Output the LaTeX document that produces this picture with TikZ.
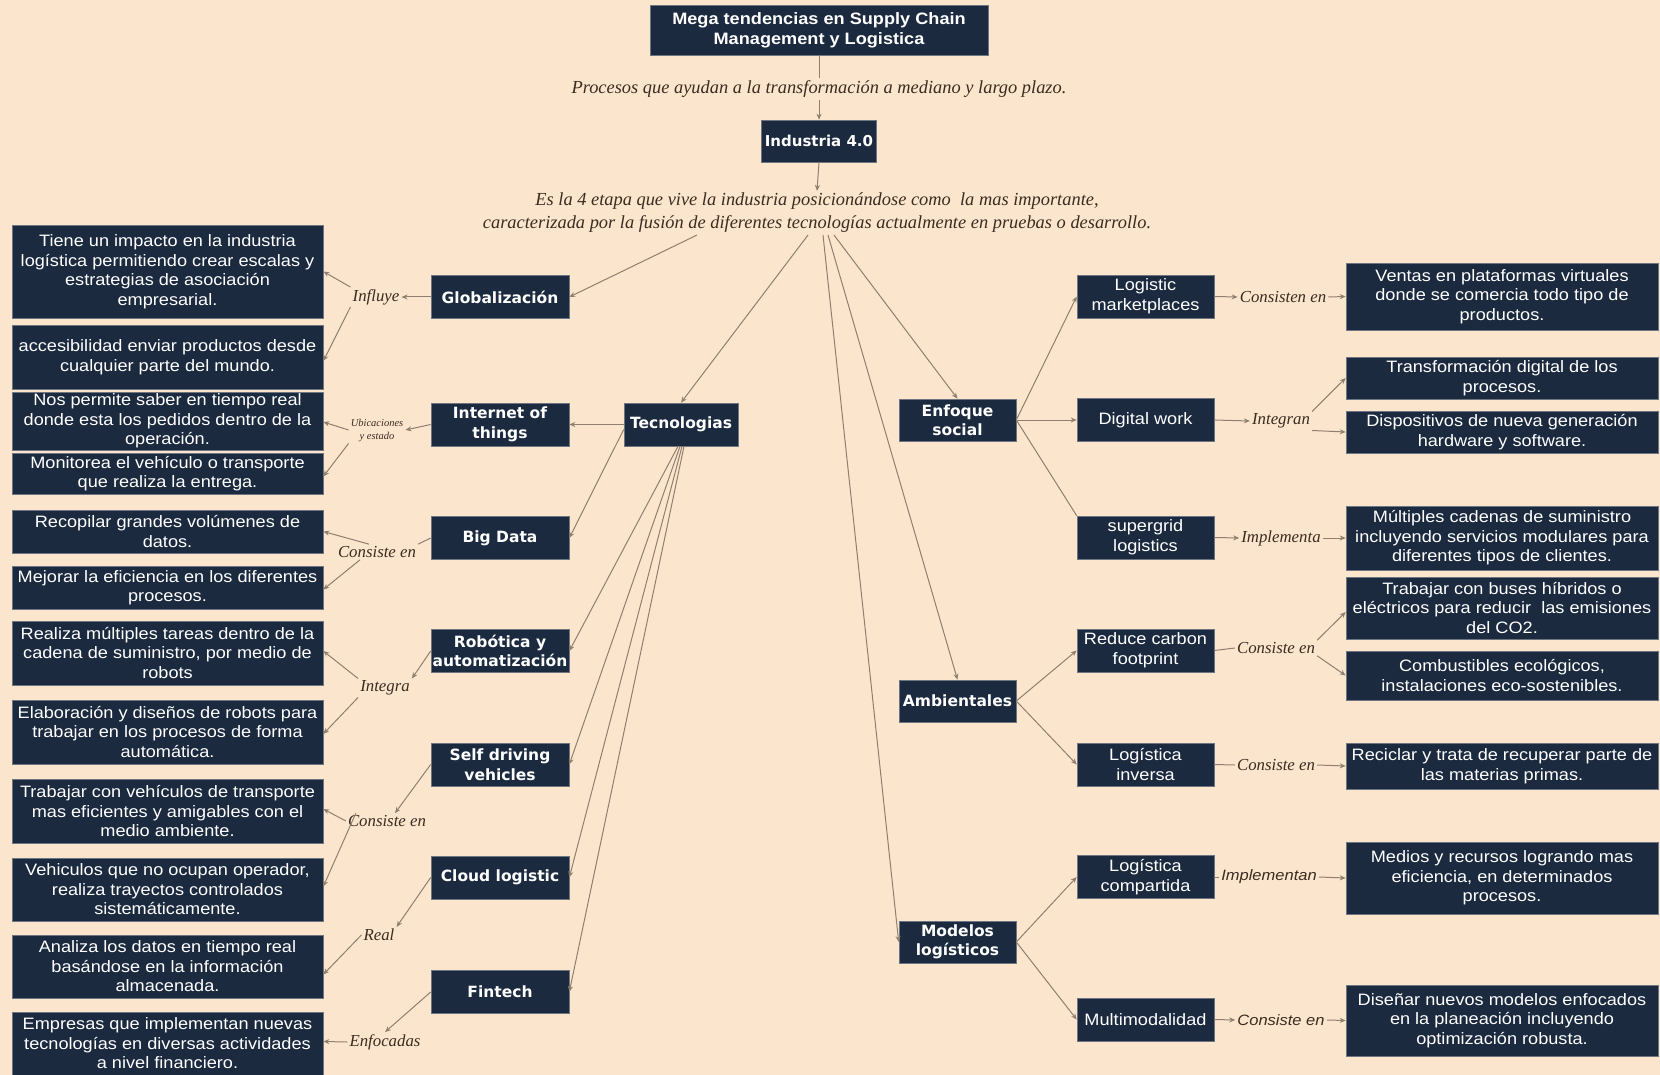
\documentclass[tikz,border=0pt]{standalone}
\usepackage{fontspec}
\usetikzlibrary{arrows.meta,calc}
\newfontfamily\boxfont{Liberation Sans}[FakeStretch=1.1]
\newfontfamily\catfont{DejaVu Sans}
\newfontfamily\labfont{Liberation Serif}
\newfontfamily\labsans{Liberation Sans}[FakeStretch=1.1]
\definecolor{bgc}{HTML}{FCE5CD}
\definecolor{boxc}{HTML}{1B2A3F}
\definecolor{rimc}{HTML}{6E7582}
\definecolor{linec}{HTML}{8F7F6E}
\definecolor{labc}{HTML}{3A2C20}
\tikzset{
  box/.style={fill=boxc, draw=rimc, line width=0.6pt, text=white, align=center, inner xsep=1pt, inner ysep=0pt},
  note/.style={box, minimum width=311pt, font=\boxfont\fontsize{16.5}{19.5}\selectfont},
  farnote/.style={box, minimum width=312pt, font=\boxfont\fontsize{16.5}{19.5}\selectfont},
  cat/.style={box, minimum width=138pt, minimum height=43pt, font=\catfont\bfseries\fontsize{15.5}{19.5}\selectfont},
  sub/.style={box, minimum width=137pt, minimum height=43pt, font=\boxfont\fontsize{16.5}{20}\selectfont},
  lab/.style={text=labc, font=\labfont\itshape\fontsize{16.8}{18}\selectfont, inner sep=2pt},
  smalllab/.style={lab, font=\labfont\itshape\fontsize{10.5}{13}\selectfont},
  sanslab/.style={lab, font=\labsans\itshape\fontsize{15}{18}\selectfont},
  toplab/.style={lab, font=\labfont\itshape\fontsize{18.4}{23}\selectfont, align=center},
  link/.style={draw=linec, line width=1pt},
  arr/.style={link, -{Stealth[length=6pt,width=5pt]}},
}
\begin{document}
\begin{tikzpicture}[x=1pt,y=-1pt]
\fill[bgc] (0,0) rectangle (1660,1075);
\useasboundingbox (0,0) rectangle (1660,1075);

% --- top of the map
\node[box, minimum width=338pt, minimum height=50pt, font=\boxfont\bfseries\fontsize{16.5}{20}\selectfont] (title) at (819,30)
  {Mega tendencias en Supply Chain\\Management y Logistica};
\node[toplab] (proc) at (819,89) {Procesos que ayudan a la transformación a mediano y largo plazo.};
\node[cat, minimum width=115pt, minimum height=42pt, font=\catfont\bfseries\fontsize{15}{19}\selectfont] (ind) at (819,141) {Industria 4.0};
\node[toplab] (desc) at (817,213)
  {Es la 4 etapa que vive la industria posicionándose como\ \ la mas importante,\\
   caracterizada por la fusión de diferentes tecnologías actualmente en pruebas o desarrollo.};

% --- left descriptions
\node[note, minimum height=93pt] (l1) at (167.5,271.5) {Tiene un impacto en la industria\\logística permitiendo crear escalas y\\estrategias de asociación\\empresarial.};
\node[note, minimum height=64pt] (l2) at (167.5,357) {accesibilidad enviar productos desde\\cualquier parte del mundo.};
\node[note, minimum height=58pt] (l3) at (167.5,421) {Nos permite saber en tiempo real\\donde esta los pedidos dentro de la\\operación.};
\node[note, minimum height=41pt] (l4) at (167.5,473.5) {Monitorea el vehículo o transporte\\que realiza la entrega.};
\node[note, minimum height=43pt] (l5) at (167.5,531.5) {Recopilar grandes volúmenes de\\datos.};
\node[note, minimum height=43pt] (l6) at (167.5,587.5) {Mejorar la eficiencia en los diferentes\\procesos.};
\node[note, minimum height=64pt] (l7) at (167.5,653) {Realiza múltiples tareas dentro de la\\cadena de suministro, por medio de\\robots};
\node[note, minimum height=64pt] (l8) at (167.5,732) {Elaboración y diseños de robots para\\trabajar en los procesos de forma\\automática.};
\node[note, minimum height=64pt] (l9) at (167.5,811) {Trabajar con vehículos de transporte\\mas eficientes y amigables con el\\medio ambiente.};
\node[note, minimum height=63pt] (l10) at (167.5,889.5) {Vehiculos que no ocupan operador,\\realiza trayectos controlados\\sistemáticamente.};
\node[note, minimum height=63pt] (l11) at (167.5,966.5) {Analiza los datos en tiempo real\\basándose en la información\\almacenada.};
\node[note, minimum height=63pt] (l12) at (167.5,1043.5) {Empresas que implementan nuevas\\tecnologías en diversas actividades\\a nivel financiero.};

% --- technology branches
\node[cat] (glob) at (500,297) {Globalización};
\node[cat] (iot) at (500,424.5) {Internet of\\things};
\node[cat] (bigd) at (500,538) {Big Data};
\node[cat] (robot) at (500,651) {Robótica y\\automatización};
\node[cat] (self) at (500,764.5) {Self driving\\vehicles};
\node[cat] (cloud) at (500,877.5) {Cloud logistic};
\node[cat] (fintech) at (500,992) {Fintech};
\node[cat, minimum width=114pt] (tec) at (681,424.5) {Tecnologias};

% --- right-hand groups
\node[cat, minimum width=117pt, minimum height=42pt] (enf) at (957.5,420) {Enfoque\\social};
\node[cat, minimum width=117pt, minimum height=42pt] (amb) at (957.5,701) {Ambientales};
\node[cat, minimum width=117pt, minimum height=42pt] (mod) at (957.5,942) {Modelos\\logísticos};

\node[sub] (lm) at (1145.5,296.5) {Logistic\\marketplaces};
\node[sub] (dw) at (1145.5,420) {Digital work};
\node[sub] (sg) at (1145.5,537.5) {supergrid\\logistics};
\node[sub] (rc) at (1145.5,650.5) {Reduce carbon\\footprint};
\node[sub] (li) at (1145.5,764.5) {Logística\\inversa};
\node[sub] (lc) at (1145.5,877) {Logística\\compartida};
\node[sub] (mm) at (1145.5,1019.5) {Multimodalidad};

\node[farnote, minimum height=67pt] (r1) at (1502,296.5) {Ventas en plataformas virtuales\\donde se comercia todo tipo de\\productos.};
\node[farnote, minimum height=42pt] (r2) at (1502,378) {Transformación digital de los\\procesos.};
\node[farnote, minimum height=42pt] (r3) at (1502,432) {Dispositivos de nueva generación\\hardware y software.};
\node[farnote, minimum height=64pt] (r4) at (1502,538) {Múltiples cadenas de suministro\\incluyendo servicios modulares para\\diferentes tipos de clientes.};
\node[farnote, minimum height=62pt] (r5) at (1502,608) {Trabajar con buses híbridos o\\eléctricos para reducir\ \ las emisiones\\del CO2.};
\node[farnote, minimum height=49pt] (r6) at (1502,675.5) {Combustibles ecológicos,\\instalaciones eco-sostenibles.};
\node[farnote, minimum height=46pt] (r7) at (1502,766) {Reciclar y trata de recuperar parte de\\las materias primas.};
\node[farnote, minimum height=72pt] (r8) at (1502,878) {Medios y recursos logrando mas\\eficiencia, en determinados\\procesos.};
\node[farnote, minimum height=71pt] (r9) at (1502,1020.5) {Diseñar nuevos modelos enfocados\\en la planeación incluyendo\\optimización robusta.};

% --- connector labels, left side
\node[lab] (inf) at (376,297) {Influye};
\node[smalllab, align=center] (ubi) at (377,430) {Ubicaciones\\y estado};
\node[lab] (con1) at (377,552) {Consiste en};
\node[lab] (integ) at (385,688) {Integra};
\node[lab] (con2) at (387,821) {Consiste en};
\node[lab] (real) at (379,935) {Real};
\node[lab] (enfo) at (385,1042) {Enfocadas};

% --- connector labels, right side
\node[lab] (con3) at (1283,297) {Consisten en};
\node[lab] (integr) at (1281,421) {Integran};
\node[lab] (impl) at (1281,538) {Implementa};
\node[lab] (con4) at (1276,648) {Consiste en};
\node[lab] (con5) at (1276,765) {Consiste en};
\node[sanslab] (impl2) at (1269,877) {Implementan};
\node[sanslab] (con6) at (1281,1020) {Consiste en};

% --- main spine
\draw[link] (title.south) -- (proc.north);
\draw[arr] (proc.south) -- (ind.north);
\draw[arr] (ind.south) -- (desc.north);
\draw[arr] ($(desc.south)+(-120,0)$) -- (glob.east);
\draw[arr] ($(desc.south)+(-9,0)$) -- (tec.north);
\draw[arr] ($(desc.south)+(6,0)$) -- (mod.west);
\draw[arr] ($(desc.south)+(11,0)$) -- (amb.north);
\draw[arr] ($(desc.south)+(17,0)$) -- (enf.north);

% --- technologies fan
\draw[arr] (tec.west) -- (iot.east);
\draw[arr] ($(tec.west)+(0,5)$) -- (bigd.east);
\draw[arr] ($(tec.south)+(-3,0)$) -- (robot.east);
\draw[arr] ($(tec.south)+(-1,0)$) -- (self.east);
\draw[arr] ($(tec.south)+(1,0)$) -- (cloud.east);
\draw[arr] ($(tec.south)+(3,0)$) -- (fintech.east);

% --- left detail links
\draw[arr] (glob.west) -- (inf.east);
\draw[arr] (inf.north west) -- (l1.east);
\draw[arr] (inf.south west) -- ($(l2.east)+(0,4)$);
\draw[arr] (iot.west) -- (ubi.east);
\draw[arr] (ubi.west) -- ($(l3.east)+(0,1)$);
\draw[arr] (ubi.south west) -- ($(l4.east)+(0,3)$);
\draw[link] (bigd.west) -- (con1.north east);
\draw[arr] ($(con1.north)+(-8,0)$) -- (l5.east);
\draw[arr] ($(con1.south)+(-17,0)$) -- ($(l6.east)+(0,2)$);
\draw[arr] (robot.west) -- (integ.north east);
\draw[arr] (integ.north west) -- ($(l7.east)+(0,-2)$);
\draw[arr] (integ.south west) -- ($(l8.east)+(0,2)$);
\draw[arr] (self.west) -- ($(con2.north)+(8,0)$);
\draw[arr] (con2.west) -- ($(l9.east)+(0,-2)$);
\draw[arr] ($(con2.north west)+(10,0)$) -- ($(l10.east)+(0,-3)$);
\draw[arr] (cloud.west) -- (real.north east);
\draw[arr] (real.west) -- ($(l11.east)+(0,8)$);
\draw[arr] (fintech.west) -- (enfo.north);
\draw[arr] (enfo.west) -- ($(l12.east)+(0,-2)$);

% --- right group links
\draw[arr] (enf.east) -- (lm.west);
\draw[arr] (enf.east) -- (dw.west);
\draw[link] (enf.east) -- (sg.north west);
\draw[arr] (amb.east) -- (rc.west);
\draw[arr] (amb.east) -- (li.west);
\draw[arr] (mod.east) -- (lc.west);
\draw[arr] (mod.east) -- (mm.west);

\draw[arr] (lm.east) -- (con3.west);
\draw[arr] (con3.east) -- (r1.west);
\draw[arr] (dw.east) -- (integr.west);
\draw[arr] (integr.north east) -- (r2.west);
\draw[arr] (integr.south east) -- (r3.west);
\draw[arr] (sg.east) -- (impl.west);
\draw[arr] (impl.east) -- (r4.west);
\draw[link] (rc.east) -- (con4.west);
\draw[arr] (con4.north east) -- ($(r5.west)+(0,4)$);
\draw[arr] (con4.south east) -- (r6.west);
\draw[link] (li.east) -- (con5.west);
\draw[arr] (con5.east) -- (r7.west);
\draw[link] (lc.east) -- (impl2.west);
\draw[arr] (impl2.east) -- (r8.west);
\draw[arr] (mm.east) -- (con6.west);
\draw[arr] (con6.east) -- (r9.west);
\end{tikzpicture}
\end{document}
